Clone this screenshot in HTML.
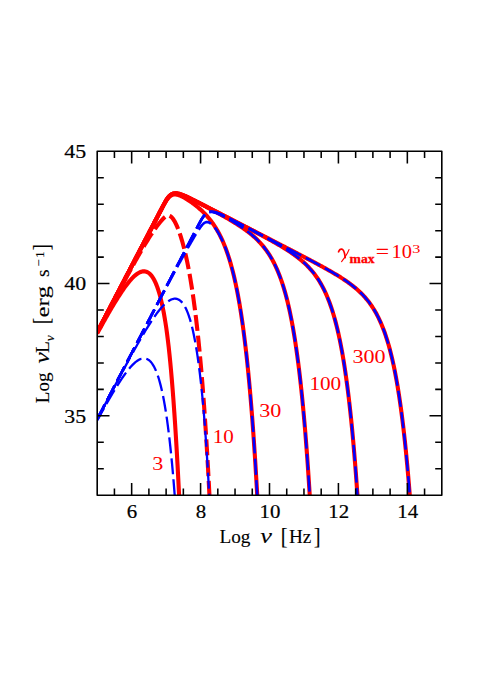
<!DOCTYPE html>
<html><head><meta charset="utf-8"><style>
html,body{margin:0;padding:0;background:#fff;}
svg{display:block}
text{font-family:"Liberation Serif",serif;}
.num{font-size:19px;fill:#000;stroke:#000;stroke-width:0.2px}
.num2{font-size:18.3px;fill:#000;stroke:#000;stroke-width:0.2px}
.rl{font-size:18px;fill:#ff0000}
.ser{font-size:19.5px;fill:#000;stroke:#000;stroke-width:0.12px}
.it{font-style:italic;font-size:21px}
</style></head><body>
<svg width="491" height="694" viewBox="0 0 491 694">
<rect width="491" height="694" fill="#fff"/>
<defs><clipPath id="c"><rect x="97.2" y="151.3" width="344.60" height="343.90"/></clipPath></defs>
<g clip-path="url(#c)">
<path d="M97.20,333.51 L98.00,332.04 L98.81,330.57 L99.61,329.11 L100.41,327.65 L101.22,326.19 L102.02,324.74 L102.82,323.30 L103.63,321.86 L104.43,320.42 L105.23,319.00 L106.04,317.57 L106.84,316.16 L107.64,314.75 L108.44,313.35 L109.25,311.95 L110.05,310.57 L110.85,309.19 L111.66,307.82 L112.46,306.47 L113.26,305.12 L114.07,303.78 L114.87,302.46 L115.67,301.14 L116.48,299.84 L117.28,298.55 L118.08,297.28 L118.89,296.02 L119.69,294.77 L120.49,293.55 L121.30,292.33 L122.10,291.14 L122.90,289.97 L123.71,288.82 L124.51,287.69 L125.31,286.58 L126.12,285.49 L126.92,284.43 L127.72,283.40 L128.52,282.40 L129.33,281.42 L130.13,280.48 L130.93,279.56 L131.74,278.69 L132.54,277.85 L133.34,277.05 L134.15,276.29 L134.95,275.57 L135.75,274.90 L136.56,274.27 L137.36,273.70 L138.16,273.18 L138.97,272.72 L139.77,272.31 L140.57,271.97 L141.38,271.70 L142.18,271.49 L142.98,271.36 L143.79,271.31 L144.59,271.34 L145.39,271.45 L146.20,271.66 L147.00,271.96 L147.80,272.36 L148.60,272.87 L149.41,273.50 L150.21,274.24 L151.01,275.11 L151.82,276.11 L152.62,277.26 L153.42,278.55 L154.23,280.00 L155.03,281.61 L155.83,283.39 L156.64,285.36 L157.44,287.53 L158.24,289.89 L159.05,292.48 L159.85,295.29 L160.65,298.34 L161.46,301.64 L162.26,305.22 L163.06,309.08 L163.87,313.26 L164.67,317.79 L165.47,322.71 L166.28,328.05 L167.08,333.87 L167.88,340.20 L168.69,347.07 L169.49,354.50 L170.29,362.53 L171.09,371.17 L171.90,380.45 L172.70,390.37 L173.50,400.96 L174.31,412.24 L175.11,424.22 L175.91,436.95 L176.72,450.43 L177.52,464.71 L178.32,479.82 L179.13,495.79 L179.93,512.66 L180.73,530.48 L181.54,549.29" fill="none" stroke="#ff0000" stroke-width="4.1" stroke-linejoin="round"/>
<path d="M97.20,332.25 L98.00,330.71 L98.81,329.17 L99.61,327.63 L100.41,326.09 L101.22,324.54 L102.02,323.00 L102.82,321.46 L103.63,319.92 L104.43,318.38 L105.23,316.84 L106.04,315.30 L106.84,313.76 L107.64,312.22 L108.44,310.68 L109.25,309.14 L110.05,307.59 L110.85,306.05 L111.66,304.51 L112.46,302.97 L113.26,301.43 L114.07,299.89 L114.87,298.35 L115.67,296.81 L116.48,295.27 L117.28,293.73 L118.08,292.19 L118.89,290.65 L119.69,289.11 L120.49,287.57 L121.30,286.03 L122.10,284.49 L122.90,282.95 L123.71,281.41 L124.51,279.87 L125.31,278.33 L126.12,276.79 L126.92,275.25 L127.72,273.71 L128.52,272.17 L129.33,270.64 L130.13,269.10 L130.93,267.56 L131.74,266.02 L132.54,264.48 L133.34,262.94 L134.15,261.41 L134.95,259.87 L135.75,258.33 L136.56,256.79 L137.36,255.26 L138.16,253.72 L138.97,252.18 L139.77,250.65 L140.57,249.11 L141.38,247.58 L142.18,246.04 L142.98,244.51 L143.79,242.97 L144.59,241.44 L145.39,239.90 L146.20,238.37 L147.00,236.84 L147.80,235.31 L148.60,233.77 L149.41,232.24 L150.21,230.71 L151.01,229.18 L151.82,227.65 L152.62,226.12 L153.42,224.60 L154.23,223.07 L155.03,221.54 L155.83,220.02 L156.64,218.49 L157.44,216.97 L158.24,215.44 L159.05,213.92 L159.85,212.40 L160.65,210.88 L161.46,209.36 L162.26,207.85 L163.06,206.35 L163.87,204.86 L164.67,203.42 L165.47,202.03 L166.28,200.72 L167.08,199.52 L167.88,198.43 L168.69,197.49 L169.49,196.67 L170.29,196.00 L171.09,195.46 L171.90,195.05 L172.70,194.75 L173.50,194.55 L174.31,194.45 L175.11,194.43 L175.91,194.48 L176.72,194.60 L177.52,194.77 L178.32,195.00 L179.13,195.26 L179.93,195.57 L180.73,195.90 L181.54,196.27 L182.34,196.66 L183.14,197.07 L183.95,197.51 L184.75,197.96 L185.55,198.43 L186.36,198.91 L187.16,199.41 L187.96,199.92 L188.77,200.44 L189.57,200.98 L190.37,201.53 L191.17,202.09 L191.98,202.66 L192.78,203.25 L193.58,203.84 L194.39,204.45 L195.19,205.08 L195.99,205.71 L196.80,206.36 L197.60,207.02 L198.40,207.70 L199.21,208.39 L200.01,209.10 L200.81,209.83 L201.62,210.58 L202.42,211.34 L203.22,212.12 L204.03,212.93 L204.83,213.75 L205.63,214.60 L206.44,215.47 L207.24,216.37 L208.04,217.29 L208.85,218.25 L209.65,219.23 L210.45,220.25 L211.25,221.29 L212.06,222.38 L212.86,223.50 L213.66,224.66 L214.47,225.86 L215.27,227.10 L216.07,228.39 L216.88,229.73 L217.68,231.12 L218.48,232.56 L219.29,234.06 L220.09,235.62 L220.89,237.25 L221.70,238.94 L222.50,240.70 L223.30,242.53 L224.11,244.44 L224.91,246.44 L225.71,248.52 L226.52,250.70 L227.32,252.97 L228.12,255.35 L228.93,257.83 L229.73,260.43 L230.53,263.15 L231.33,265.99 L232.14,268.97 L232.94,272.09 L233.74,275.36 L234.55,278.79 L235.35,282.38 L236.15,286.15 L236.96,290.11 L237.76,294.26 L238.56,298.61 L239.37,303.19 L240.17,307.99 L240.97,313.03 L241.78,318.33 L242.58,323.90 L243.38,329.76 L244.19,335.91 L244.99,342.38 L245.79,349.19 L246.60,356.34 L247.40,363.87 L248.20,371.79 L249.01,380.13 L249.81,388.90 L250.61,398.13 L251.41,407.85 L252.22,418.09 L253.02,428.86 L253.82,440.21 L254.63,452.15 L255.43,464.74 L256.23,477.99 L257.04,491.96 L257.84,506.67 L258.64,522.16 L259.45,538.49" fill="none" stroke="#ff0000" stroke-width="4.1" stroke-linejoin="round"/>
<path d="M97.20,332.24 L98.00,330.70 L98.81,329.16 L99.61,327.62 L100.41,326.08 L101.22,324.54 L102.02,323.00 L102.82,321.45 L103.63,319.91 L104.43,318.37 L105.23,316.83 L106.04,315.29 L106.84,313.75 L107.64,312.21 L108.44,310.66 L109.25,309.12 L110.05,307.58 L110.85,306.04 L111.66,304.50 L112.46,302.96 L113.26,301.42 L114.07,299.87 L114.87,298.33 L115.67,296.79 L116.48,295.25 L117.28,293.71 L118.08,292.17 L118.89,290.62 L119.69,289.08 L120.49,287.54 L121.30,286.00 L122.10,284.46 L122.90,282.92 L123.71,281.38 L124.51,279.83 L125.31,278.29 L126.12,276.75 L126.92,275.21 L127.72,273.67 L128.52,272.13 L129.33,270.59 L130.13,269.04 L130.93,267.50 L131.74,265.96 L132.54,264.42 L133.34,262.88 L134.15,261.34 L134.95,259.80 L135.75,258.26 L136.56,256.71 L137.36,255.17 L138.16,253.63 L138.97,252.09 L139.77,250.55 L140.57,249.01 L141.38,247.47 L142.18,245.92 L142.98,244.38 L143.79,242.84 L144.59,241.30 L145.39,239.76 L146.20,238.22 L147.00,236.68 L147.80,235.14 L148.60,233.59 L149.41,232.05 L150.21,230.51 L151.01,228.97 L151.82,227.43 L152.62,225.89 L153.42,224.35 L154.23,222.81 L155.03,221.27 L155.83,219.72 L156.64,218.18 L157.44,216.64 L158.24,215.10 L159.05,213.56 L159.85,212.02 L160.65,210.48 L161.46,208.94 L162.26,207.40 L163.06,205.87 L163.87,204.36 L164.67,202.89 L165.47,201.47 L166.28,200.13 L167.08,198.90 L167.88,197.78 L168.69,196.80 L169.49,195.95 L170.29,195.24 L171.09,194.65 L171.90,194.19 L172.70,193.85 L173.50,193.60 L174.31,193.45 L175.11,193.37 L175.91,193.37 L176.72,193.42 L177.52,193.53 L178.32,193.69 L179.13,193.88 L179.93,194.11 L180.73,194.36 L181.54,194.64 L182.34,194.94 L183.14,195.26 L183.95,195.60 L184.75,195.94 L185.55,196.30 L186.36,196.67 L187.16,197.04 L187.96,197.42 L188.77,197.81 L189.57,198.20 L190.37,198.59 L191.17,198.99 L191.98,199.40 L192.78,199.80 L193.58,200.21 L194.39,200.62 L195.19,201.03 L195.99,201.44 L196.80,201.85 L197.60,202.27 L198.40,202.68 L199.21,203.10 L200.01,203.52 L200.81,203.94 L201.62,204.36 L202.42,204.78 L203.22,205.20 L204.03,205.62 L204.83,206.04 L205.63,206.47 L206.44,206.89 L207.24,207.31 L208.04,207.74 L208.85,208.17 L209.65,208.59 L210.45,209.02 L211.25,209.45 L212.06,209.88 L212.86,210.31 L213.66,210.75 L214.47,211.18 L215.27,211.61 L216.07,212.05 L216.88,212.49 L217.68,212.93 L218.48,213.37 L219.29,213.81 L220.09,214.25 L220.89,214.70 L221.70,215.14 L222.50,215.59 L223.30,216.04 L224.11,216.50 L224.91,216.95 L225.71,217.41 L226.52,217.87 L227.32,218.33 L228.12,218.80 L228.93,219.26 L229.73,219.73 L230.53,220.21 L231.33,220.69 L232.14,221.17 L232.94,221.65 L233.74,222.14 L234.55,222.64 L235.35,223.13 L236.15,223.64 L236.96,224.14 L237.76,224.66 L238.56,225.18 L239.37,225.70 L240.17,226.23 L240.97,226.77 L241.78,227.31 L242.58,227.86 L243.38,228.42 L244.19,228.99 L244.99,229.56 L245.79,230.15 L246.60,230.74 L247.40,231.34 L248.20,231.96 L249.01,232.58 L249.81,233.22 L250.61,233.87 L251.41,234.53 L252.22,235.21 L253.02,235.90 L253.82,236.60 L254.63,237.33 L255.43,238.07 L256.23,238.82 L257.04,239.60 L257.84,240.40 L258.64,241.21 L259.45,242.05 L260.25,242.92 L261.05,243.81 L261.86,244.72 L262.66,245.66 L263.46,246.63 L264.27,247.64 L265.07,248.67 L265.87,249.74 L266.68,250.85 L267.48,251.99 L268.28,253.17 L269.09,254.40 L269.89,255.67 L270.69,256.99 L271.50,258.36 L272.30,259.78 L273.10,261.26 L273.90,262.79 L274.71,264.39 L275.51,266.05 L276.31,267.78 L277.12,269.59 L277.92,271.47 L278.72,273.43 L279.53,275.48 L280.33,277.62 L281.13,279.85 L281.94,282.19 L282.74,284.62 L283.54,287.18 L284.35,289.84 L285.15,292.64 L285.95,295.56 L286.76,298.63 L287.56,301.84 L288.36,305.20 L289.17,308.73 L289.97,312.42 L290.77,316.30 L291.58,320.37 L292.38,324.64 L293.18,329.13 L293.98,333.84 L294.79,338.78 L295.59,343.98 L296.39,349.44 L297.20,355.18 L298.00,361.21 L298.80,367.55 L299.61,374.22 L300.41,381.23 L301.21,388.61 L302.02,396.37 L302.82,404.54 L303.62,413.13 L304.43,422.18 L305.23,431.70 L306.03,441.72 L306.84,452.28 L307.64,463.39 L308.44,475.09 L309.25,487.42 L310.05,500.40 L310.85,514.07 L311.66,528.48 L312.46,543.66" fill="none" stroke="#ff0000" stroke-width="4.1" stroke-linejoin="round"/>
<path d="M97.20,332.24 L98.00,330.70 L98.81,329.16 L99.61,327.62 L100.41,326.08 L101.22,324.54 L102.02,323.00 L102.82,321.45 L103.63,319.91 L104.43,318.37 L105.23,316.83 L106.04,315.29 L106.84,313.75 L107.64,312.21 L108.44,310.66 L109.25,309.12 L110.05,307.58 L110.85,306.04 L111.66,304.50 L112.46,302.96 L113.26,301.41 L114.07,299.87 L114.87,298.33 L115.67,296.79 L116.48,295.25 L117.28,293.71 L118.08,292.17 L118.89,290.62 L119.69,289.08 L120.49,287.54 L121.30,286.00 L122.10,284.46 L122.90,282.92 L123.71,281.38 L124.51,279.83 L125.31,278.29 L126.12,276.75 L126.92,275.21 L127.72,273.67 L128.52,272.13 L129.33,270.59 L130.13,269.04 L130.93,267.50 L131.74,265.96 L132.54,264.42 L133.34,262.88 L134.15,261.34 L134.95,259.79 L135.75,258.25 L136.56,256.71 L137.36,255.17 L138.16,253.63 L138.97,252.09 L139.77,250.55 L140.57,249.00 L141.38,247.46 L142.18,245.92 L142.98,244.38 L143.79,242.84 L144.59,241.30 L145.39,239.76 L146.20,238.21 L147.00,236.67 L147.80,235.13 L148.60,233.59 L149.41,232.05 L150.21,230.51 L151.01,228.97 L151.82,227.42 L152.62,225.88 L153.42,224.34 L154.23,222.80 L155.03,221.26 L155.83,219.72 L156.64,218.17 L157.44,216.63 L158.24,215.09 L159.05,213.55 L159.85,212.01 L160.65,210.47 L161.46,208.93 L162.26,207.39 L163.06,205.86 L163.87,204.35 L164.67,202.87 L165.47,201.46 L166.28,200.12 L167.08,198.88 L167.88,197.76 L168.69,196.78 L169.49,195.93 L170.29,195.22 L171.09,194.63 L171.90,194.17 L172.70,193.82 L173.50,193.58 L174.31,193.42 L175.11,193.34 L175.91,193.34 L176.72,193.39 L177.52,193.50 L178.32,193.65 L179.13,193.84 L179.93,194.07 L180.73,194.32 L181.54,194.60 L182.34,194.90 L183.14,195.21 L183.95,195.54 L184.75,195.89 L185.55,196.24 L186.36,196.61 L187.16,196.98 L187.96,197.35 L188.77,197.74 L189.57,198.12 L190.37,198.52 L191.17,198.91 L191.98,199.31 L192.78,199.71 L193.58,200.11 L194.39,200.51 L195.19,200.92 L195.99,201.33 L196.80,201.73 L197.60,202.14 L198.40,202.55 L199.21,202.96 L200.01,203.37 L200.81,203.78 L201.62,204.19 L202.42,204.60 L203.22,205.01 L204.03,205.43 L204.83,205.84 L205.63,206.25 L206.44,206.66 L207.24,207.07 L208.04,207.49 L208.85,207.90 L209.65,208.31 L210.45,208.72 L211.25,209.14 L212.06,209.55 L212.86,209.96 L213.66,210.38 L214.47,210.79 L215.27,211.20 L216.07,211.62 L216.88,212.03 L217.68,212.44 L218.48,212.86 L219.29,213.27 L220.09,213.68 L220.89,214.10 L221.70,214.51 L222.50,214.92 L223.30,215.34 L224.11,215.75 L224.91,216.17 L225.71,216.58 L226.52,216.99 L227.32,217.41 L228.12,217.82 L228.93,218.24 L229.73,218.65 L230.53,219.07 L231.33,219.48 L232.14,219.90 L232.94,220.31 L233.74,220.73 L234.55,221.14 L235.35,221.56 L236.15,221.98 L236.96,222.39 L237.76,222.81 L238.56,223.22 L239.37,223.64 L240.17,224.06 L240.97,224.47 L241.78,224.89 L242.58,225.31 L243.38,225.73 L244.19,226.15 L244.99,226.56 L245.79,226.98 L246.60,227.40 L247.40,227.82 L248.20,228.24 L249.01,228.66 L249.81,229.08 L250.61,229.50 L251.41,229.93 L252.22,230.35 L253.02,230.77 L253.82,231.19 L254.63,231.62 L255.43,232.04 L256.23,232.47 L257.04,232.89 L257.84,233.32 L258.64,233.75 L259.45,234.18 L260.25,234.61 L261.05,235.04 L261.86,235.47 L262.66,235.90 L263.46,236.33 L264.27,236.77 L265.07,237.20 L265.87,237.64 L266.68,238.08 L267.48,238.52 L268.28,238.96 L269.09,239.40 L269.89,239.84 L270.69,240.29 L271.50,240.74 L272.30,241.19 L273.10,241.64 L273.90,242.09 L274.71,242.55 L275.51,243.01 L276.31,243.47 L277.12,243.93 L277.92,244.40 L278.72,244.87 L279.53,245.34 L280.33,245.82 L281.13,246.30 L281.94,246.78 L282.74,247.27 L283.54,247.76 L284.35,248.26 L285.15,248.76 L285.95,249.26 L286.76,249.77 L287.56,250.29 L288.36,250.81 L289.17,251.34 L289.97,251.87 L290.77,252.41 L291.58,252.96 L292.38,253.52 L293.18,254.08 L293.98,254.65 L294.79,255.23 L295.59,255.82 L296.39,256.42 L297.20,257.03 L298.00,257.65 L298.80,258.28 L299.61,258.93 L300.41,259.58 L301.21,260.25 L302.02,260.94 L302.82,261.64 L303.62,262.35 L304.43,263.08 L305.23,263.83 L306.03,264.60 L306.84,265.39 L307.64,266.20 L308.44,267.03 L309.25,267.88 L310.05,268.76 L310.85,269.66 L311.66,270.59 L312.46,271.55 L313.26,272.54 L314.06,273.56 L314.87,274.61 L315.67,275.70 L316.47,276.83 L317.28,277.99 L318.08,279.20 L318.88,280.45 L319.69,281.75 L320.49,283.10 L321.29,284.49 L322.10,285.95 L322.90,287.46 L323.70,289.03 L324.51,290.66 L325.31,292.36 L326.11,294.13 L326.92,295.98 L327.72,297.91 L328.52,299.92 L329.33,302.02 L330.13,304.21 L330.93,306.49 L331.74,308.89 L332.54,311.39 L333.34,314.01 L334.14,316.74 L334.95,319.61 L335.75,322.61 L336.55,325.76 L337.36,329.05 L338.16,332.51 L338.96,336.13 L339.77,339.93 L340.57,343.91 L341.37,348.09 L342.18,352.48 L342.98,357.09 L343.78,361.93 L344.59,367.02 L345.39,372.36 L346.19,377.98 L347.00,383.88 L347.80,390.08 L348.60,396.61 L349.41,403.47 L350.21,410.68 L351.01,418.27 L351.82,426.26 L352.62,434.66 L353.42,443.51 L354.22,452.82 L355.03,462.62 L355.83,472.94 L356.63,483.80 L357.44,495.24 L358.24,507.29 L359.04,519.98 L359.85,533.35 L360.65,547.43" fill="none" stroke="#ff0000" stroke-width="4.1" stroke-linejoin="round"/>
<path d="M97.20,332.24 L98.00,330.70 L98.81,329.16 L99.61,327.62 L100.41,326.08 L101.22,324.54 L102.02,323.00 L102.82,321.45 L103.63,319.91 L104.43,318.37 L105.23,316.83 L106.04,315.29 L106.84,313.75 L107.64,312.21 L108.44,310.66 L109.25,309.12 L110.05,307.58 L110.85,306.04 L111.66,304.50 L112.46,302.96 L113.26,301.41 L114.07,299.87 L114.87,298.33 L115.67,296.79 L116.48,295.25 L117.28,293.71 L118.08,292.17 L118.89,290.62 L119.69,289.08 L120.49,287.54 L121.30,286.00 L122.10,284.46 L122.90,282.92 L123.71,281.38 L124.51,279.83 L125.31,278.29 L126.12,276.75 L126.92,275.21 L127.72,273.67 L128.52,272.13 L129.33,270.58 L130.13,269.04 L130.93,267.50 L131.74,265.96 L132.54,264.42 L133.34,262.88 L134.15,261.34 L134.95,259.79 L135.75,258.25 L136.56,256.71 L137.36,255.17 L138.16,253.63 L138.97,252.09 L139.77,250.55 L140.57,249.00 L141.38,247.46 L142.18,245.92 L142.98,244.38 L143.79,242.84 L144.59,241.30 L145.39,239.76 L146.20,238.21 L147.00,236.67 L147.80,235.13 L148.60,233.59 L149.41,232.05 L150.21,230.51 L151.01,228.96 L151.82,227.42 L152.62,225.88 L153.42,224.34 L154.23,222.80 L155.03,221.26 L155.83,219.72 L156.64,218.17 L157.44,216.63 L158.24,215.09 L159.05,213.55 L159.85,212.01 L160.65,210.47 L161.46,208.93 L162.26,207.39 L163.06,205.86 L163.87,204.35 L164.67,202.87 L165.47,201.46 L166.28,200.12 L167.08,198.88 L167.88,197.76 L168.69,196.78 L169.49,195.93 L170.29,195.21 L171.09,194.63 L171.90,194.17 L172.70,193.82 L173.50,193.58 L174.31,193.42 L175.11,193.34 L175.91,193.34 L176.72,193.39 L177.52,193.50 L178.32,193.65 L179.13,193.84 L179.93,194.07 L180.73,194.32 L181.54,194.60 L182.34,194.90 L183.14,195.21 L183.95,195.54 L184.75,195.89 L185.55,196.24 L186.36,196.60 L187.16,196.97 L187.96,197.35 L188.77,197.73 L189.57,198.12 L190.37,198.51 L191.17,198.91 L191.98,199.31 L192.78,199.71 L193.58,200.11 L194.39,200.51 L195.19,200.92 L195.99,201.32 L196.80,201.73 L197.60,202.14 L198.40,202.54 L199.21,202.95 L200.01,203.36 L200.81,203.77 L201.62,204.18 L202.42,204.60 L203.22,205.01 L204.03,205.42 L204.83,205.83 L205.63,206.24 L206.44,206.65 L207.24,207.06 L208.04,207.48 L208.85,207.89 L209.65,208.30 L210.45,208.71 L211.25,209.13 L212.06,209.54 L212.86,209.95 L213.66,210.36 L214.47,210.77 L215.27,211.19 L216.07,211.60 L216.88,212.01 L217.68,212.42 L218.48,212.84 L219.29,213.25 L220.09,213.66 L220.89,214.07 L221.70,214.49 L222.50,214.90 L223.30,215.31 L224.11,215.72 L224.91,216.14 L225.71,216.55 L226.52,216.96 L227.32,217.37 L228.12,217.79 L228.93,218.20 L229.73,218.61 L230.53,219.03 L231.33,219.44 L232.14,219.85 L232.94,220.26 L233.74,220.68 L234.55,221.09 L235.35,221.50 L236.15,221.91 L236.96,222.33 L237.76,222.74 L238.56,223.15 L239.37,223.56 L240.17,223.98 L240.97,224.39 L241.78,224.80 L242.58,225.21 L243.38,225.63 L244.19,226.04 L244.99,226.45 L245.79,226.86 L246.60,227.28 L247.40,227.69 L248.20,228.10 L249.01,228.52 L249.81,228.93 L250.61,229.34 L251.41,229.75 L252.22,230.17 L253.02,230.58 L253.82,230.99 L254.63,231.40 L255.43,231.82 L256.23,232.23 L257.04,232.64 L257.84,233.06 L258.64,233.47 L259.45,233.88 L260.25,234.29 L261.05,234.71 L261.86,235.12 L262.66,235.53 L263.46,235.95 L264.27,236.36 L265.07,236.77 L265.87,237.19 L266.68,237.60 L267.48,238.01 L268.28,238.43 L269.09,238.84 L269.89,239.25 L270.69,239.67 L271.50,240.08 L272.30,240.49 L273.10,240.91 L273.90,241.32 L274.71,241.73 L275.51,242.15 L276.31,242.56 L277.12,242.97 L277.92,243.39 L278.72,243.80 L279.53,244.22 L280.33,244.63 L281.13,245.05 L281.94,245.46 L282.74,245.87 L283.54,246.29 L284.35,246.70 L285.15,247.12 L285.95,247.53 L286.76,247.95 L287.56,248.36 L288.36,248.78 L289.17,249.19 L289.97,249.61 L290.77,250.03 L291.58,250.44 L292.38,250.86 L293.18,251.28 L293.98,251.69 L294.79,252.11 L295.59,252.53 L296.39,252.94 L297.20,253.36 L298.00,253.78 L298.80,254.20 L299.61,254.62 L300.41,255.03 L301.21,255.45 L302.02,255.87 L302.82,256.29 L303.62,256.71 L304.43,257.14 L305.23,257.56 L306.03,257.98 L306.84,258.40 L307.64,258.82 L308.44,259.25 L309.25,259.67 L310.05,260.10 L310.85,260.52 L311.66,260.95 L312.46,261.38 L313.26,261.80 L314.06,262.23 L314.87,262.66 L315.67,263.09 L316.47,263.52 L317.28,263.96 L318.08,264.39 L318.88,264.82 L319.69,265.26 L320.49,265.70 L321.29,266.13 L322.10,266.57 L322.90,267.02 L323.70,267.46 L324.51,267.90 L325.31,268.35 L326.11,268.80 L326.92,269.25 L327.72,269.70 L328.52,270.16 L329.33,270.61 L330.13,271.07 L330.93,271.54 L331.74,272.00 L332.54,272.47 L333.34,272.94 L334.14,273.41 L334.95,273.89 L335.75,274.37 L336.55,274.86 L337.36,275.34 L338.16,275.84 L338.96,276.33 L339.77,276.84 L340.57,277.34 L341.37,277.86 L342.18,278.37 L342.98,278.90 L343.78,279.43 L344.59,279.96 L345.39,280.50 L346.19,281.05 L347.00,281.61 L347.80,282.18 L348.60,282.75 L349.41,283.33 L350.21,283.93 L351.01,284.53 L351.82,285.14 L352.62,285.77 L353.42,286.40 L354.22,287.05 L355.03,287.71 L355.83,288.38 L356.63,289.07 L357.44,289.78 L358.24,290.50 L359.04,291.23 L359.85,291.99 L360.65,292.76 L361.45,293.55 L362.26,294.37 L363.06,295.21 L363.86,296.07 L364.67,296.95 L365.47,297.86 L366.27,298.80 L367.08,299.77 L367.88,300.77 L368.68,301.80 L369.49,302.86 L370.29,303.96 L371.09,305.10 L371.90,306.28 L372.70,307.50 L373.50,308.76 L374.31,310.07 L375.11,311.44 L375.91,312.85 L376.71,314.32 L377.52,315.85 L378.32,317.43 L379.12,319.09 L379.93,320.81 L380.73,322.60 L381.53,324.47 L382.34,326.43 L383.14,328.46 L383.94,330.59 L384.75,332.81 L385.55,335.13 L386.35,337.55 L387.16,340.08 L387.96,342.74 L388.76,345.51 L389.57,348.42 L390.37,351.46 L391.17,354.65 L391.98,357.99 L392.78,361.50 L393.58,365.17 L394.39,369.02 L395.19,373.07 L395.99,377.31 L396.79,381.76 L397.60,386.44 L398.40,391.35 L399.20,396.51 L400.01,401.94 L400.81,407.64 L401.61,413.63 L402.42,419.92 L403.22,426.55 L404.02,433.51 L404.83,440.84 L405.63,448.54 L406.43,456.65 L407.24,465.18 L408.04,474.17 L408.84,483.62 L409.65,493.57 L410.45,504.05 L411.25,515.08 L412.06,526.70 L412.86,538.94" fill="none" stroke="#ff0000" stroke-width="4.1" stroke-linejoin="round"/>
<path d="M97.20,332.40 L98.00,330.87 L98.81,329.34 L99.61,327.81 L100.41,326.28 L101.22,324.74 L102.02,323.21 L102.82,321.68 L103.63,320.16 L104.43,318.63 L105.23,317.10 L106.04,315.57 L106.84,314.05 L107.64,312.52 L108.44,311.00 L109.25,309.48 L110.05,307.96 L110.85,306.43 L111.66,304.91 L112.46,303.40 L113.26,301.88 L114.07,300.36 L114.87,298.85 L115.67,297.34 L116.48,295.82 L117.28,294.31 L118.08,292.81 L118.89,291.30 L119.69,289.80 L120.49,288.29 L121.30,286.79 L122.10,285.30 L122.90,283.80 L123.71,282.31 L124.51,280.82 L125.31,279.33 L126.12,277.85 L126.92,276.37 L127.72,274.89 L128.52,273.41 L129.33,271.94 L130.13,270.48 L130.93,269.01 L131.74,267.56 L132.54,266.10 L133.34,264.65 L134.15,263.21 L134.95,261.77 L135.75,260.34 L136.56,258.91 L137.36,257.49 L138.16,256.08 L138.97,254.67 L139.77,253.27 L140.57,251.88 L141.38,250.50 L142.18,249.13 L142.98,247.76 L143.79,246.41 L144.59,245.06 L145.39,243.73 L146.20,242.40 L147.00,241.09 L147.80,239.80 L148.60,238.51 L149.41,237.24 L150.21,235.99 L151.01,234.75 L151.82,233.53 L152.62,232.32 L153.42,231.13 L154.23,229.97 L155.03,228.82 L155.83,227.70 L156.64,226.59 L157.44,225.52 L158.24,224.47 L159.05,223.44 L159.85,222.44 L160.65,221.48 L161.46,220.55 L162.26,219.65 L163.06,218.80 L163.87,218.00 L164.67,217.28 L165.47,216.65 L166.28,216.15 L167.08,215.80 L167.88,215.61 L168.69,215.61 L169.49,215.80 L170.29,216.18 L171.09,216.75 L171.90,217.51 L172.70,218.45 L173.50,219.56 L174.31,220.84 L175.11,222.28 L175.91,223.86 L176.72,225.60 L177.52,227.48 L178.32,229.51 L179.13,231.68 L179.93,233.99 L180.73,236.45 L181.54,239.05 L182.34,241.80 L183.14,244.70 L183.95,247.76 L184.75,250.98 L185.55,254.37 L186.36,257.94 L187.16,261.69 L187.96,265.64 L188.77,269.78 L189.57,274.14 L190.37,278.73 L191.17,283.54 L191.98,288.61 L192.78,293.93 L193.58,299.53 L194.39,305.41 L195.19,311.60 L195.99,318.11 L196.80,324.96 L197.60,332.16 L198.40,339.74 L199.21,347.71 L200.01,356.10 L200.81,364.93 L201.62,374.23 L202.42,384.02 L203.22,394.32 L204.03,405.17 L204.83,416.59 L205.63,428.63 L206.44,441.30 L207.24,454.65 L208.04,468.71 L208.85,483.53 L209.65,499.14 L210.45,515.58 L211.25,532.92 L212.06,551.18" fill="none" stroke="#ff0000" stroke-width="4.1" stroke-linejoin="round" stroke-dasharray="16 4.8" stroke-dashoffset="6.5"/>
<path d="M97.20,420.54 L98.00,419.07 L98.81,417.60 L99.61,416.14 L100.41,414.68 L101.22,413.23 L102.02,411.78 L102.82,410.33 L103.63,408.89 L104.43,407.46 L105.23,406.03 L106.04,404.61 L106.84,403.19 L107.64,401.78 L108.44,400.38 L109.25,398.99 L110.05,397.60 L110.85,396.23 L111.66,394.86 L112.46,393.50 L113.26,392.15 L114.07,390.81 L114.87,389.49 L115.67,388.17 L116.48,386.87 L117.28,385.58 L118.08,384.31 L118.89,383.05 L119.69,381.81 L120.49,380.58 L121.30,379.37 L122.10,378.18 L122.90,377.00 L123.71,375.85 L124.51,374.72 L125.31,373.61 L126.12,372.53 L126.92,371.47 L127.72,370.43 L128.52,369.43 L129.33,368.45 L130.13,367.51 L130.93,366.60 L131.74,365.72 L132.54,364.88 L133.34,364.08 L134.15,363.32 L134.95,362.60 L135.75,361.93 L136.56,361.31 L137.36,360.73 L138.16,360.21 L138.97,359.75 L139.77,359.35 L140.57,359.01 L141.38,358.73 L142.18,358.53 L142.98,358.39 L143.79,358.34 L144.59,358.37 L145.39,358.48 L146.20,358.69 L147.00,358.99 L147.80,359.40 L148.60,359.91 L149.41,360.53 L150.21,361.28 L151.01,362.15 L151.82,363.15 L152.62,364.29 L153.42,365.58 L154.23,367.03 L155.03,368.64 L155.83,370.43 L156.64,372.40 L157.44,374.56 L158.24,376.93 L159.05,379.51 L159.85,382.32 L160.65,385.37 L161.46,388.67 L162.26,392.24 L163.06,396.10 L163.87,400.25 L164.67,404.71 L165.47,409.50 L166.28,414.65 L167.08,420.16 L167.88,426.06 L168.69,432.37 L169.49,439.12 L170.29,446.32 L171.09,454.00 L171.90,462.20 L172.70,470.92 L173.50,480.22 L174.31,490.11 L175.11,500.64 L175.91,511.82 L176.72,523.71 L177.52,536.35" fill="none" stroke="#0000ff" stroke-width="2.3" stroke-linejoin="round" stroke-dasharray="16 5" stroke-dashoffset="2"/>
<path d="M97.20,419.44 L98.00,417.90 L98.81,416.37 L99.61,414.84 L100.41,413.31 L101.22,411.78 L102.02,410.25 L102.82,408.72 L103.63,407.19 L104.43,405.66 L105.23,404.13 L106.04,402.61 L106.84,401.08 L107.64,399.56 L108.44,398.03 L109.25,396.51 L110.05,394.99 L110.85,393.47 L111.66,391.95 L112.46,390.43 L113.26,388.91 L114.07,387.40 L114.87,385.88 L115.67,384.37 L116.48,382.86 L117.28,381.35 L118.08,379.84 L118.89,378.33 L119.69,376.83 L120.49,375.33 L121.30,373.83 L122.10,372.33 L122.90,370.83 L123.71,369.34 L124.51,367.85 L125.31,366.36 L126.12,364.88 L126.92,363.40 L127.72,361.92 L128.52,360.45 L129.33,358.98 L130.13,357.51 L130.93,356.05 L131.74,354.59 L132.54,353.14 L133.34,351.69 L134.15,350.24 L134.95,348.80 L135.75,347.37 L136.56,345.95 L137.36,344.53 L138.16,343.11 L138.97,341.71 L139.77,340.31 L140.57,338.92 L141.38,337.53 L142.18,336.16 L142.98,334.79 L143.79,333.44 L144.59,332.09 L145.39,330.76 L146.20,329.44 L147.00,328.13 L147.80,326.83 L148.60,325.55 L149.41,324.28 L150.21,323.02 L151.01,321.78 L151.82,320.56 L152.62,319.35 L153.42,318.17 L154.23,317.00 L155.03,315.85 L155.83,314.73 L156.64,313.63 L157.44,312.55 L158.24,311.50 L159.05,310.47 L159.85,309.48 L160.65,308.51 L161.46,307.58 L162.26,306.68 L163.06,305.81 L163.87,304.98 L164.67,304.19 L165.47,303.45 L166.28,302.74 L167.08,302.08 L167.88,301.48 L168.69,300.92 L169.49,300.42 L170.29,299.97 L171.09,299.58 L171.90,299.26 L172.70,299.01 L173.50,298.82 L174.31,298.72 L175.11,298.69 L175.91,298.74 L176.72,298.88 L177.52,299.12 L178.32,299.45 L179.13,299.88 L179.93,300.43 L180.73,301.09 L181.54,301.87 L182.34,302.78 L183.14,303.82 L183.95,305.01 L184.75,306.35 L185.55,307.84 L186.36,309.51 L187.16,311.35 L187.96,313.37 L188.77,315.60 L189.57,318.03 L190.37,320.68 L191.17,323.56 L191.98,326.69 L192.78,330.07 L193.58,333.72 L194.39,337.66 L195.19,341.90 L195.99,346.47 L196.80,351.36 L197.60,356.62 L198.40,362.25 L199.21,368.29 L200.01,374.78 L200.81,381.75 L201.62,389.25 L202.42,397.33 L203.22,406.04 L204.03,415.42 L204.83,425.51 L205.63,436.34 L206.44,447.95 L207.24,460.36 L208.04,473.61 L208.85,487.71 L209.65,502.70 L210.45,518.62 L211.25,535.49" fill="none" stroke="#0000ff" stroke-width="2.3" stroke-linejoin="round" stroke-dasharray="16 5" stroke-dashoffset="8.5"/>
<path d="M97.20,419.28 L98.00,417.74 L98.81,416.20 L99.61,414.66 L100.41,413.12 L101.22,411.58 L102.02,410.04 L102.82,408.50 L103.63,406.95 L104.43,405.41 L105.23,403.87 L106.04,402.33 L106.84,400.79 L107.64,399.25 L108.44,397.71 L109.25,396.17 L110.05,394.63 L110.85,393.09 L111.66,391.55 L112.46,390.01 L113.26,388.47 L114.07,386.92 L114.87,385.38 L115.67,383.84 L116.48,382.30 L117.28,380.76 L118.08,379.22 L118.89,377.68 L119.69,376.14 L120.49,374.60 L121.30,373.06 L122.10,371.52 L122.90,369.98 L123.71,368.44 L124.51,366.90 L125.31,365.36 L126.12,363.83 L126.92,362.29 L127.72,360.75 L128.52,359.21 L129.33,357.67 L130.13,356.13 L130.93,354.59 L131.74,353.05 L132.54,351.52 L133.34,349.98 L134.15,348.44 L134.95,346.90 L135.75,345.36 L136.56,343.83 L137.36,342.29 L138.16,340.75 L138.97,339.22 L139.77,337.68 L140.57,336.15 L141.38,334.61 L142.18,333.07 L142.98,331.54 L143.79,330.01 L144.59,328.47 L145.39,326.94 L146.20,325.40 L147.00,323.87 L147.80,322.34 L148.60,320.81 L149.41,319.28 L150.21,317.75 L151.01,316.22 L151.82,314.69 L152.62,313.16 L153.42,311.63 L154.23,310.10 L155.03,308.57 L155.83,307.05 L156.64,305.52 L157.44,304.00 L158.24,302.48 L159.05,300.95 L159.85,299.43 L160.65,297.91 L161.46,296.40 L162.26,294.88 L163.06,293.36 L163.87,291.85 L164.67,290.33 L165.47,288.82 L166.28,287.31 L167.08,285.80 L167.88,284.30 L168.69,282.79 L169.49,281.29 L170.29,279.79 L171.09,278.29 L171.90,276.80 L172.70,275.30 L173.50,273.81 L174.31,272.33 L175.11,270.84 L175.91,269.36 L176.72,267.88 L177.52,266.41 L178.32,264.94 L179.13,263.47 L179.93,262.01 L180.73,260.55 L181.54,259.09 L182.34,257.64 L183.14,256.20 L183.95,254.76 L184.75,253.33 L185.55,251.90 L186.36,250.48 L187.16,249.06 L187.96,247.66 L188.77,246.26 L189.57,244.86 L190.37,243.48 L191.17,242.10 L191.98,240.74 L192.78,239.38 L193.58,238.04 L194.39,236.70 L195.19,235.38 L195.99,234.06 L196.80,232.77 L197.60,231.48 L198.40,230.22 L199.21,228.98 L200.01,227.78 L200.81,226.65 L201.62,225.59 L202.42,224.65 L203.22,223.84 L204.03,223.17 L204.83,222.67 L205.63,222.32 L206.44,222.12 L207.24,222.08 L208.04,222.19 L208.85,222.43 L209.65,222.80 L210.45,223.28 L211.25,223.87 L212.06,224.57 L212.86,225.35 L213.66,226.23 L214.47,227.19 L215.27,228.23 L216.07,229.35 L216.88,230.54 L217.68,231.80 L218.48,233.14 L219.29,234.55 L220.09,236.03 L220.89,237.59 L221.70,239.23 L222.50,240.94 L223.30,242.74 L224.11,244.62 L224.91,246.59 L225.71,248.65 L226.52,250.81 L227.32,253.06 L228.12,255.42 L228.93,257.89 L229.73,260.48 L230.53,263.19 L231.33,266.03 L232.14,269.00 L232.94,272.12 L233.74,275.39 L234.55,278.81 L235.35,282.40 L236.15,286.17 L236.96,290.12 L237.76,294.27 L238.56,298.62 L239.37,303.19 L240.17,308.00 L240.97,313.04 L241.78,318.34 L242.58,323.91 L243.38,329.76 L244.19,335.91 L244.99,342.38 L245.79,349.19 L246.60,356.35 L247.40,363.87 L248.20,371.80 L249.01,380.13 L249.81,388.90 L250.61,398.14 L251.41,407.85 L252.22,418.09 L253.02,428.86 L253.82,440.21 L254.63,452.15 L255.43,464.74 L256.23,477.99 L257.04,491.96 L257.84,506.67 L258.64,522.16 L259.45,538.49" fill="none" stroke="#0000ff" stroke-width="2.6" stroke-linejoin="round" stroke-dasharray="16.3 5.2" stroke-dashoffset="0"/>
<path d="M97.20,419.28 L98.00,417.74 L98.81,416.19 L99.61,414.65 L100.41,413.11 L101.22,411.57 L102.02,410.03 L102.82,408.49 L103.63,406.95 L104.43,405.40 L105.23,403.86 L106.04,402.32 L106.84,400.78 L107.64,399.24 L108.44,397.70 L109.25,396.16 L110.05,394.61 L110.85,393.07 L111.66,391.53 L112.46,389.99 L113.26,388.45 L114.07,386.91 L114.87,385.37 L115.67,383.82 L116.48,382.28 L117.28,380.74 L118.08,379.20 L118.89,377.66 L119.69,376.12 L120.49,374.58 L121.30,373.03 L122.10,371.49 L122.90,369.95 L123.71,368.41 L124.51,366.87 L125.31,365.33 L126.12,363.79 L126.92,362.24 L127.72,360.70 L128.52,359.16 L129.33,357.62 L130.13,356.08 L130.93,354.54 L131.74,353.00 L132.54,351.45 L133.34,349.91 L134.15,348.37 L134.95,346.83 L135.75,345.29 L136.56,343.75 L137.36,342.21 L138.16,340.66 L138.97,339.12 L139.77,337.58 L140.57,336.04 L141.38,334.50 L142.18,332.96 L142.98,331.42 L143.79,329.88 L144.59,328.33 L145.39,326.79 L146.20,325.25 L147.00,323.71 L147.80,322.17 L148.60,320.63 L149.41,319.09 L150.21,317.55 L151.01,316.00 L151.82,314.46 L152.62,312.92 L153.42,311.38 L154.23,309.84 L155.03,308.30 L155.83,306.76 L156.64,305.22 L157.44,303.68 L158.24,302.13 L159.05,300.59 L159.85,299.05 L160.65,297.51 L161.46,295.97 L162.26,294.43 L163.06,292.89 L163.87,291.35 L164.67,289.81 L165.47,288.27 L166.28,286.73 L167.08,285.19 L167.88,283.64 L168.69,282.10 L169.49,280.56 L170.29,279.02 L171.09,277.48 L171.90,275.94 L172.70,274.40 L173.50,272.86 L174.31,271.32 L175.11,269.78 L175.91,268.24 L176.72,266.70 L177.52,265.16 L178.32,263.62 L179.13,262.08 L179.93,260.54 L180.73,259.01 L181.54,257.47 L182.34,255.93 L183.14,254.39 L183.95,252.85 L184.75,251.31 L185.55,249.77 L186.36,248.23 L187.16,246.70 L187.96,245.16 L188.77,243.62 L189.57,242.08 L190.37,240.55 L191.17,239.01 L191.98,237.47 L192.78,235.94 L193.58,234.40 L194.39,232.86 L195.19,231.33 L195.99,229.79 L196.80,228.26 L197.60,226.73 L198.40,225.20 L199.21,223.68 L200.01,222.20 L200.81,220.75 L201.62,219.38 L202.42,218.09 L203.22,216.92 L204.03,215.87 L204.83,214.96 L205.63,214.18 L206.44,213.54 L207.24,213.03 L208.04,212.63 L208.85,212.35 L209.65,212.16 L210.45,212.06 L211.25,212.03 L212.06,212.07 L212.86,212.17 L213.66,212.32 L214.47,212.51 L215.27,212.74 L216.07,213.00 L216.88,213.29 L217.68,213.61 L218.48,213.94 L219.29,214.29 L220.09,214.66 L220.89,215.04 L221.70,215.44 L222.50,215.84 L223.30,216.25 L224.11,216.67 L224.91,217.10 L225.71,217.53 L226.52,217.97 L227.32,218.42 L228.12,218.87 L228.93,219.33 L229.73,219.79 L230.53,220.25 L231.33,220.72 L232.14,221.20 L232.94,221.68 L233.74,222.17 L234.55,222.66 L235.35,223.15 L236.15,223.65 L236.96,224.16 L237.76,224.67 L238.56,225.18 L239.37,225.71 L240.17,226.24 L240.97,226.77 L241.78,227.31 L242.58,227.87 L243.38,228.42 L244.19,228.99 L244.99,229.56 L245.79,230.15 L246.60,230.74 L247.40,231.34 L248.20,231.96 L249.01,232.58 L249.81,233.22 L250.61,233.87 L251.41,234.53 L252.22,235.21 L253.02,235.90 L253.82,236.60 L254.63,237.33 L255.43,238.07 L256.23,238.82 L257.04,239.60 L257.84,240.40 L258.64,241.21 L259.45,242.05 L260.25,242.92 L261.05,243.81 L261.86,244.72 L262.66,245.66 L263.46,246.63 L264.27,247.64 L265.07,248.67 L265.87,249.74 L266.68,250.85 L267.48,251.99 L268.28,253.17 L269.09,254.40 L269.89,255.67 L270.69,256.99 L271.50,258.36 L272.30,259.78 L273.10,261.26 L273.90,262.79 L274.71,264.39 L275.51,266.05 L276.31,267.78 L277.12,269.59 L277.92,271.47 L278.72,273.43 L279.53,275.48 L280.33,277.62 L281.13,279.85 L281.94,282.19 L282.74,284.62 L283.54,287.18 L284.35,289.84 L285.15,292.64 L285.95,295.56 L286.76,298.63 L287.56,301.84 L288.36,305.20 L289.17,308.73 L289.97,312.42 L290.77,316.30 L291.58,320.37 L292.38,324.64 L293.18,329.13 L293.98,333.84 L294.79,338.78 L295.59,343.98 L296.39,349.44 L297.20,355.18 L298.00,361.21 L298.80,367.55 L299.61,374.22 L300.41,381.23 L301.21,388.61 L302.02,396.37 L302.82,404.54 L303.62,413.13 L304.43,422.18 L305.23,431.70 L306.03,441.72 L306.84,452.28 L307.64,463.39 L308.44,475.09 L309.25,487.42 L310.05,500.40 L310.85,514.07 L311.66,528.48 L312.46,543.66" fill="none" stroke="#0000ff" stroke-width="2.6" stroke-linejoin="round" stroke-dasharray="16.3 5.2" stroke-dashoffset="0"/>
<path d="M97.20,419.28 L98.00,417.74 L98.81,416.19 L99.61,414.65 L100.41,413.11 L101.22,411.57 L102.02,410.03 L102.82,408.49 L103.63,406.95 L104.43,405.40 L105.23,403.86 L106.04,402.32 L106.84,400.78 L107.64,399.24 L108.44,397.70 L109.25,396.16 L110.05,394.61 L110.85,393.07 L111.66,391.53 L112.46,389.99 L113.26,388.45 L114.07,386.91 L114.87,385.36 L115.67,383.82 L116.48,382.28 L117.28,380.74 L118.08,379.20 L118.89,377.66 L119.69,376.12 L120.49,374.57 L121.30,373.03 L122.10,371.49 L122.90,369.95 L123.71,368.41 L124.51,366.87 L125.31,365.33 L126.12,363.78 L126.92,362.24 L127.72,360.70 L128.52,359.16 L129.33,357.62 L130.13,356.08 L130.93,354.54 L131.74,352.99 L132.54,351.45 L133.34,349.91 L134.15,348.37 L134.95,346.83 L135.75,345.29 L136.56,343.74 L137.36,342.20 L138.16,340.66 L138.97,339.12 L139.77,337.58 L140.57,336.04 L141.38,334.50 L142.18,332.95 L142.98,331.41 L143.79,329.87 L144.59,328.33 L145.39,326.79 L146.20,325.25 L147.00,323.71 L147.80,322.16 L148.60,320.62 L149.41,319.08 L150.21,317.54 L151.01,316.00 L151.82,314.46 L152.62,312.92 L153.42,311.37 L154.23,309.83 L155.03,308.29 L155.83,306.75 L156.64,305.21 L157.44,303.67 L158.24,302.13 L159.05,300.58 L159.85,299.04 L160.65,297.50 L161.46,295.96 L162.26,294.42 L163.06,292.88 L163.87,291.33 L164.67,289.79 L165.47,288.25 L166.28,286.71 L167.08,285.17 L167.88,283.63 L168.69,282.09 L169.49,280.54 L170.29,279.00 L171.09,277.46 L171.90,275.92 L172.70,274.38 L173.50,272.84 L174.31,271.30 L175.11,269.75 L175.91,268.21 L176.72,266.67 L177.52,265.13 L178.32,263.59 L179.13,262.05 L179.93,260.51 L180.73,258.96 L181.54,257.42 L182.34,255.88 L183.14,254.34 L183.95,252.80 L184.75,251.26 L185.55,249.72 L186.36,248.18 L187.16,246.63 L187.96,245.09 L188.77,243.55 L189.57,242.01 L190.37,240.47 L191.17,238.93 L191.98,237.39 L192.78,235.84 L193.58,234.30 L194.39,232.76 L195.19,231.22 L195.99,229.68 L196.80,228.14 L197.60,226.60 L198.40,225.07 L199.21,223.54 L200.01,222.05 L200.81,220.59 L201.62,219.21 L202.42,217.92 L203.22,216.73 L204.03,215.68 L204.83,214.75 L205.63,213.97 L206.44,213.31 L207.24,212.79 L208.04,212.38 L208.85,212.08 L209.65,211.88 L210.45,211.76 L211.25,211.72 L212.06,211.74 L212.86,211.82 L213.66,211.95 L214.47,212.12 L215.27,212.33 L216.07,212.57 L216.88,212.84 L217.68,213.12 L218.48,213.43 L219.29,213.76 L220.09,214.09 L220.89,214.44 L221.70,214.80 L222.50,215.17 L223.30,215.55 L224.11,215.93 L224.91,216.32 L225.71,216.71 L226.52,217.10 L227.32,217.50 L228.12,217.90 L228.93,218.30 L229.73,218.71 L230.53,219.11 L231.33,219.52 L232.14,219.93 L232.94,220.34 L233.74,220.75 L234.55,221.16 L235.35,221.58 L236.15,221.99 L236.96,222.40 L237.76,222.82 L238.56,223.23 L239.37,223.65 L240.17,224.06 L240.97,224.48 L241.78,224.90 L242.58,225.31 L243.38,225.73 L244.19,226.15 L244.99,226.57 L245.79,226.98 L246.60,227.40 L247.40,227.82 L248.20,228.24 L249.01,228.66 L249.81,229.08 L250.61,229.50 L251.41,229.93 L252.22,230.35 L253.02,230.77 L253.82,231.19 L254.63,231.62 L255.43,232.04 L256.23,232.47 L257.04,232.89 L257.84,233.32 L258.64,233.75 L259.45,234.18 L260.25,234.61 L261.05,235.04 L261.86,235.47 L262.66,235.90 L263.46,236.33 L264.27,236.77 L265.07,237.20 L265.87,237.64 L266.68,238.08 L267.48,238.52 L268.28,238.96 L269.09,239.40 L269.89,239.84 L270.69,240.29 L271.50,240.74 L272.30,241.19 L273.10,241.64 L273.90,242.09 L274.71,242.55 L275.51,243.01 L276.31,243.47 L277.12,243.93 L277.92,244.40 L278.72,244.87 L279.53,245.34 L280.33,245.82 L281.13,246.30 L281.94,246.78 L282.74,247.27 L283.54,247.76 L284.35,248.26 L285.15,248.76 L285.95,249.26 L286.76,249.77 L287.56,250.29 L288.36,250.81 L289.17,251.34 L289.97,251.87 L290.77,252.41 L291.58,252.96 L292.38,253.52 L293.18,254.08 L293.98,254.65 L294.79,255.23 L295.59,255.82 L296.39,256.42 L297.20,257.03 L298.00,257.65 L298.80,258.28 L299.61,258.93 L300.41,259.58 L301.21,260.25 L302.02,260.94 L302.82,261.64 L303.62,262.35 L304.43,263.08 L305.23,263.83 L306.03,264.60 L306.84,265.39 L307.64,266.20 L308.44,267.03 L309.25,267.88 L310.05,268.76 L310.85,269.66 L311.66,270.59 L312.46,271.55 L313.26,272.54 L314.06,273.56 L314.87,274.61 L315.67,275.70 L316.47,276.83 L317.28,277.99 L318.08,279.20 L318.88,280.45 L319.69,281.75 L320.49,283.10 L321.29,284.49 L322.10,285.95 L322.90,287.46 L323.70,289.03 L324.51,290.66 L325.31,292.36 L326.11,294.13 L326.92,295.98 L327.72,297.91 L328.52,299.92 L329.33,302.02 L330.13,304.21 L330.93,306.49 L331.74,308.89 L332.54,311.39 L333.34,314.01 L334.14,316.74 L334.95,319.61 L335.75,322.61 L336.55,325.76 L337.36,329.05 L338.16,332.51 L338.96,336.13 L339.77,339.93 L340.57,343.91 L341.37,348.09 L342.18,352.48 L342.98,357.09 L343.78,361.93 L344.59,367.02 L345.39,372.36 L346.19,377.98 L347.00,383.88 L347.80,390.08 L348.60,396.61 L349.41,403.47 L350.21,410.68 L351.01,418.27 L351.82,426.26 L352.62,434.66 L353.42,443.51 L354.22,452.82 L355.03,462.62 L355.83,472.94 L356.63,483.80 L357.44,495.24 L358.24,507.29 L359.04,519.98 L359.85,533.35 L360.65,547.43" fill="none" stroke="#0000ff" stroke-width="2.6" stroke-linejoin="round" stroke-dasharray="16.3 5.2" stroke-dashoffset="0"/>
<path d="M97.20,419.28 L98.00,417.74 L98.81,416.19 L99.61,414.65 L100.41,413.11 L101.22,411.57 L102.02,410.03 L102.82,408.49 L103.63,406.95 L104.43,405.40 L105.23,403.86 L106.04,402.32 L106.84,400.78 L107.64,399.24 L108.44,397.70 L109.25,396.16 L110.05,394.61 L110.85,393.07 L111.66,391.53 L112.46,389.99 L113.26,388.45 L114.07,386.91 L114.87,385.36 L115.67,383.82 L116.48,382.28 L117.28,380.74 L118.08,379.20 L118.89,377.66 L119.69,376.12 L120.49,374.57 L121.30,373.03 L122.10,371.49 L122.90,369.95 L123.71,368.41 L124.51,366.87 L125.31,365.33 L126.12,363.78 L126.92,362.24 L127.72,360.70 L128.52,359.16 L129.33,357.62 L130.13,356.08 L130.93,354.54 L131.74,352.99 L132.54,351.45 L133.34,349.91 L134.15,348.37 L134.95,346.83 L135.75,345.29 L136.56,343.74 L137.36,342.20 L138.16,340.66 L138.97,339.12 L139.77,337.58 L140.57,336.04 L141.38,334.50 L142.18,332.95 L142.98,331.41 L143.79,329.87 L144.59,328.33 L145.39,326.79 L146.20,325.25 L147.00,323.71 L147.80,322.16 L148.60,320.62 L149.41,319.08 L150.21,317.54 L151.01,316.00 L151.82,314.46 L152.62,312.92 L153.42,311.37 L154.23,309.83 L155.03,308.29 L155.83,306.75 L156.64,305.21 L157.44,303.67 L158.24,302.12 L159.05,300.58 L159.85,299.04 L160.65,297.50 L161.46,295.96 L162.26,294.42 L163.06,292.88 L163.87,291.33 L164.67,289.79 L165.47,288.25 L166.28,286.71 L167.08,285.17 L167.88,283.63 L168.69,282.09 L169.49,280.54 L170.29,279.00 L171.09,277.46 L171.90,275.92 L172.70,274.38 L173.50,272.84 L174.31,271.30 L175.11,269.75 L175.91,268.21 L176.72,266.67 L177.52,265.13 L178.32,263.59 L179.13,262.05 L179.93,260.50 L180.73,258.96 L181.54,257.42 L182.34,255.88 L183.14,254.34 L183.95,252.80 L184.75,251.26 L185.55,249.71 L186.36,248.17 L187.16,246.63 L187.96,245.09 L188.77,243.55 L189.57,242.01 L190.37,240.47 L191.17,238.92 L191.98,237.38 L192.78,235.84 L193.58,234.30 L194.39,232.76 L195.19,231.22 L195.99,229.68 L196.80,228.13 L197.60,226.59 L198.40,225.06 L199.21,223.54 L200.01,222.04 L200.81,220.59 L201.62,219.20 L202.42,217.91 L203.22,216.73 L204.03,215.67 L204.83,214.74 L205.63,213.96 L206.44,213.30 L207.24,212.78 L208.04,212.37 L208.85,212.07 L209.65,211.87 L210.45,211.75 L211.25,211.70 L212.06,211.73 L212.86,211.81 L213.66,211.94 L214.47,212.11 L215.27,212.31 L216.07,212.55 L216.88,212.82 L217.68,213.11 L218.48,213.41 L219.29,213.74 L220.09,214.07 L220.89,214.42 L221.70,214.78 L222.50,215.15 L223.30,215.52 L224.11,215.90 L224.91,216.29 L225.71,216.68 L226.52,217.07 L227.32,217.46 L228.12,217.86 L228.93,218.26 L229.73,218.67 L230.53,219.07 L231.33,219.48 L232.14,219.88 L232.94,220.29 L233.74,220.70 L234.55,221.11 L235.35,221.52 L236.15,221.93 L236.96,222.34 L237.76,222.75 L238.56,223.16 L239.37,223.57 L240.17,223.98 L240.97,224.39 L241.78,224.81 L242.58,225.22 L243.38,225.63 L244.19,226.04 L244.99,226.45 L245.79,226.87 L246.60,227.28 L247.40,227.69 L248.20,228.10 L249.01,228.52 L249.81,228.93 L250.61,229.34 L251.41,229.75 L252.22,230.17 L253.02,230.58 L253.82,230.99 L254.63,231.40 L255.43,231.82 L256.23,232.23 L257.04,232.64 L257.84,233.06 L258.64,233.47 L259.45,233.88 L260.25,234.29 L261.05,234.71 L261.86,235.12 L262.66,235.53 L263.46,235.95 L264.27,236.36 L265.07,236.77 L265.87,237.19 L266.68,237.60 L267.48,238.01 L268.28,238.43 L269.09,238.84 L269.89,239.25 L270.69,239.67 L271.50,240.08 L272.30,240.49 L273.10,240.91 L273.90,241.32 L274.71,241.73 L275.51,242.15 L276.31,242.56 L277.12,242.97 L277.92,243.39 L278.72,243.80 L279.53,244.22 L280.33,244.63 L281.13,245.05 L281.94,245.46 L282.74,245.87 L283.54,246.29 L284.35,246.70 L285.15,247.12 L285.95,247.53 L286.76,247.95 L287.56,248.36 L288.36,248.78 L289.17,249.19 L289.97,249.61 L290.77,250.03 L291.58,250.44 L292.38,250.86 L293.18,251.28 L293.98,251.69 L294.79,252.11 L295.59,252.53 L296.39,252.94 L297.20,253.36 L298.00,253.78 L298.80,254.20 L299.61,254.62 L300.41,255.03 L301.21,255.45 L302.02,255.87 L302.82,256.29 L303.62,256.71 L304.43,257.14 L305.23,257.56 L306.03,257.98 L306.84,258.40 L307.64,258.82 L308.44,259.25 L309.25,259.67 L310.05,260.10 L310.85,260.52 L311.66,260.95 L312.46,261.38 L313.26,261.80 L314.06,262.23 L314.87,262.66 L315.67,263.09 L316.47,263.52 L317.28,263.96 L318.08,264.39 L318.88,264.82 L319.69,265.26 L320.49,265.70 L321.29,266.13 L322.10,266.57 L322.90,267.02 L323.70,267.46 L324.51,267.90 L325.31,268.35 L326.11,268.80 L326.92,269.25 L327.72,269.70 L328.52,270.16 L329.33,270.61 L330.13,271.07 L330.93,271.54 L331.74,272.00 L332.54,272.47 L333.34,272.94 L334.14,273.41 L334.95,273.89 L335.75,274.37 L336.55,274.86 L337.36,275.34 L338.16,275.84 L338.96,276.33 L339.77,276.84 L340.57,277.34 L341.37,277.86 L342.18,278.37 L342.98,278.90 L343.78,279.43 L344.59,279.96 L345.39,280.50 L346.19,281.05 L347.00,281.61 L347.80,282.18 L348.60,282.75 L349.41,283.33 L350.21,283.93 L351.01,284.53 L351.82,285.14 L352.62,285.77 L353.42,286.40 L354.22,287.05 L355.03,287.71 L355.83,288.38 L356.63,289.07 L357.44,289.78 L358.24,290.50 L359.04,291.23 L359.85,291.99 L360.65,292.76 L361.45,293.55 L362.26,294.37 L363.06,295.21 L363.86,296.07 L364.67,296.95 L365.47,297.86 L366.27,298.80 L367.08,299.77 L367.88,300.77 L368.68,301.80 L369.49,302.86 L370.29,303.96 L371.09,305.10 L371.90,306.28 L372.70,307.50 L373.50,308.76 L374.31,310.07 L375.11,311.44 L375.91,312.85 L376.71,314.32 L377.52,315.85 L378.32,317.43 L379.12,319.09 L379.93,320.81 L380.73,322.60 L381.53,324.47 L382.34,326.43 L383.14,328.46 L383.94,330.59 L384.75,332.81 L385.55,335.13 L386.35,337.55 L387.16,340.08 L387.96,342.74 L388.76,345.51 L389.57,348.42 L390.37,351.46 L391.17,354.65 L391.98,357.99 L392.78,361.50 L393.58,365.17 L394.39,369.02 L395.19,373.07 L395.99,377.31 L396.79,381.76 L397.60,386.44 L398.40,391.35 L399.20,396.51 L400.01,401.94 L400.81,407.64 L401.61,413.63 L402.42,419.92 L403.22,426.55 L404.02,433.51 L404.83,440.84 L405.63,448.54 L406.43,456.65 L407.24,465.18 L408.04,474.17 L408.84,483.62 L409.65,493.57 L410.45,504.05 L411.25,515.08 L412.06,526.70 L412.86,538.94" fill="none" stroke="#0000ff" stroke-width="2.6" stroke-linejoin="round" stroke-dasharray="16.3 5.2" stroke-dashoffset="0"/>
</g>
<rect x="97.2" y="151.3" width="344.60" height="343.90" fill="none" stroke="#000" stroke-width="1.6" stroke-linejoin="round"/>
<path d="M114.43,495.20v-6.6M114.43,151.30v6.6M131.66,495.20v-12.3M131.66,151.30v12.3M148.89,495.20v-6.6M148.89,151.30v6.6M166.12,495.20v-6.6M166.12,151.30v6.6M183.35,495.20v-6.6M183.35,151.30v6.6M200.58,495.20v-12.3M200.58,151.30v12.3M217.81,495.20v-6.6M217.81,151.30v6.6M235.04,495.20v-6.6M235.04,151.30v6.6M252.27,495.20v-6.6M252.27,151.30v6.6M269.50,495.20v-12.3M269.50,151.30v12.3M286.73,495.20v-6.6M286.73,151.30v6.6M303.96,495.20v-6.6M303.96,151.30v6.6M321.19,495.20v-6.6M321.19,151.30v6.6M338.42,495.20v-12.3M338.42,151.30v12.3M355.65,495.20v-6.6M355.65,151.30v6.6M372.88,495.20v-6.6M372.88,151.30v6.6M390.11,495.20v-6.6M390.11,151.30v6.6M407.34,495.20v-12.3M407.34,151.30v12.3M424.57,495.20v-6.6M424.57,151.30v6.6M97.20,468.75h6.6M441.80,468.75h-6.6M97.20,442.29h6.6M441.80,442.29h-6.6M97.20,415.84h12.3M441.80,415.84h-12.3M97.20,389.38h6.6M441.80,389.38h-6.6M97.20,362.93h6.6M441.80,362.93h-6.6M97.20,336.48h6.6M441.80,336.48h-6.6M97.20,310.02h6.6M441.80,310.02h-6.6M97.20,283.57h12.3M441.80,283.57h-12.3M97.20,257.12h6.6M441.80,257.12h-6.6M97.20,230.66h6.6M441.80,230.66h-6.6M97.20,204.21h6.6M441.80,204.21h-6.6M97.20,177.75h6.6M441.80,177.75h-6.6" stroke="#000" stroke-width="1.55" fill="none"/>
<text transform="translate(132.06,518.40) scale(1.1,1)" text-anchor="middle" class="num">6</text>
<text transform="translate(200.98,518.40) scale(1.1,1)" text-anchor="middle" class="num">8</text>
<text transform="translate(269.90,518.40) scale(1.1,1)" text-anchor="middle" class="num">10</text>
<text transform="translate(338.82,518.40) scale(1.1,1)" text-anchor="middle" class="num">12</text>
<text transform="translate(407.74,518.40) scale(1.1,1)" text-anchor="middle" class="num">14</text>
<text transform="translate(86.10,422.74) scale(1.195,1)" text-anchor="end" class="num2">35</text>
<text transform="translate(86.10,290.47) scale(1.195,1)" text-anchor="end" class="num2">40</text>
<text transform="translate(86.10,158.20) scale(1.195,1)" text-anchor="end" class="num2">45</text>
<text transform="translate(152.20,469.70) scale(1.23,1)" text-anchor="start" class="rl">3</text>
<text transform="translate(212.80,443.30) scale(1.17,1)" text-anchor="start" class="rl">10</text>
<text transform="translate(259.20,416.70) scale(1.23,1)" text-anchor="start" class="rl">30</text>
<text transform="translate(309.40,390.20) scale(1.18,1)" text-anchor="start" class="rl">100</text>
<text transform="translate(352.40,363.20) scale(1.23,1)" text-anchor="start" class="rl">300</text>
<g id="xt">
<text x="219.4" y="543.3" class="ser" textLength="31" lengthAdjust="spacingAndGlyphs">Log</text>
<text transform="translate(260.2,543.3) scale(1.25,1)" class="ser it">ν</text>
<text transform="translate(280.7,544) scale(1.05,1.17)" class="ser">[</text>
<text x="288.9" y="543.3" class="ser" textLength="22.4" lengthAdjust="spacingAndGlyphs">Hz</text>
<text transform="translate(313.7,544) scale(1.05,1.17)" class="ser">]</text>
</g>
<g id="yt" transform="translate(48.8,403.2) rotate(-90)">
<text x="0" y="0" class="ser" textLength="30.6" lengthAdjust="spacingAndGlyphs">Log</text>
<text transform="translate(39.8,0) scale(1.2,1)" class="ser it">ν</text>
<text x="50.3" y="0" class="ser">L</text>
<text x="62" y="5" class="ser it" style="font-size:13.5px">ν</text>
<text transform="translate(79,0.5) scale(1,1.2)" class="ser">[</text>
<text x="85.6" y="0" class="ser" textLength="31.5" lengthAdjust="spacingAndGlyphs">erg</text>
<text x="126.3" y="0" class="ser">s</text>
<text x="136.6" y="-5.5" class="ser" style="font-size:12.5px">−</text>
<text x="145.4" y="-5.2" class="ser" style="font-size:12.5px">1</text>
<text transform="translate(152.8,0.5) scale(1,1.2)" class="ser">]</text>
</g>
<g id="gm" fill="#ff0000" stroke="#ff0000" stroke-width="0.3">
<path d="M338.6,251.8 C339.2,249.8 340.6,248.9 341.9,249.1 C343.8,249.4 344.7,253 345.2,257.6" fill="none" stroke-width="1.7" stroke-linecap="round"/>
<path d="M349,249.6 C347.5,253.5 344,258.6 341.6,261.6" fill="none" stroke-width="1.15" stroke-linecap="round"/>
<text x="349.6" y="263.3" font-weight="bold" style="font-size:13.5px" textLength="25" lengthAdjust="spacingAndGlyphs">max</text>
<text transform="translate(376,257.6) scale(1.2,1)" style="font-size:19px">=</text>
<text transform="translate(391.5,257.6) scale(1.05,1)" style="font-size:19.5px;stroke:none">10</text>
<text transform="translate(412.3,252.9) scale(1.2,1)" style="font-size:13.5px;stroke:none">3</text>
</g>
</svg>
</body></html>
